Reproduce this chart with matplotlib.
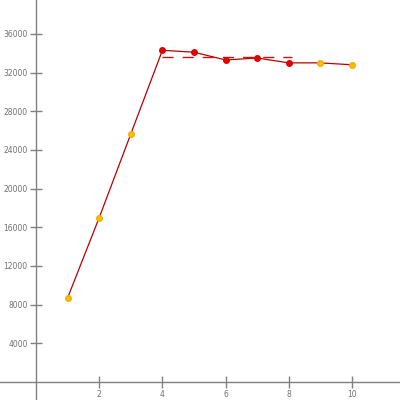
import matplotlib
matplotlib.use("Agg")
import matplotlib.pyplot as plt
import numpy as np

x = [1, 2, 3, 4, 5, 6, 7, 8, 9, 10]
y = [8700, 17000, 25650, 34300, 34100, 33300, 33500, 33000, 33000, 32800]
highlight = [False, False, False, True, True, True, True, True, False, False]
xticks = [2, 4, 6, 8, 10]
yticks = [4000, 8000, 12000, 16000, 20000, 24000, 28000, 32000, 36000]

red_x = [xi for xi, h in zip(x, highlight) if h]
red_y = [yi for yi, h in zip(y, highlight) if h]
gold_x = [xi for xi, h in zip(x, highlight) if not h]
gold_y = [yi for yi, h in zip(y, highlight) if not h]
mean_red = float(np.mean(red_y))

fig = plt.figure(figsize=(4, 4), dpi=100)
ax = fig.add_axes([0, 0, 1, 1])
ax.set_xlim(-1.14, 11.52)
ax.set_ylim(-1860, 39500)

ax.plot(x, y, color="#b80000", lw=0.9, zorder=2)
ax.plot([red_x[0], red_x[-1] + 0.1], [mean_red, mean_red], color="#d01010", lw=1.0,
        dashes=(8, 6.5), zorder=2)
ax.plot(gold_x, gold_y, "o", color="#ffc000", ms=4, mec="#f0b000", zorder=3)
ax.plot(red_x, red_y, "o", color="#e00000", ms=4, mec="#e00000", zorder=3)

for s in ["top", "right"]:
    ax.spines[s].set_visible(False)
ax.spines["left"].set_position(("data", 0))
ax.spines["bottom"].set_position(("data", 0))
for s in ["left", "bottom"]:
    ax.spines[s].set_color("#808080")
    ax.spines[s].set_linewidth(1.0)

ax.set_xticks(xticks)
ax.set_yticks(yticks)
ax.set_xticklabels([str(t) for t in xticks])
ax.set_yticklabels([str(t) for t in yticks])
ax.tick_params(axis="both", direction="inout", length=8, width=1.0, color="#808080",
               labelcolor="#707070", labelsize=5.5)
ax.tick_params(axis="y", pad=2)
ax.tick_params(axis="x", pad=2)
fig.patch.set_facecolor("white")
ax.set_facecolor("white")
fig.savefig("out.png", dpi=100)
